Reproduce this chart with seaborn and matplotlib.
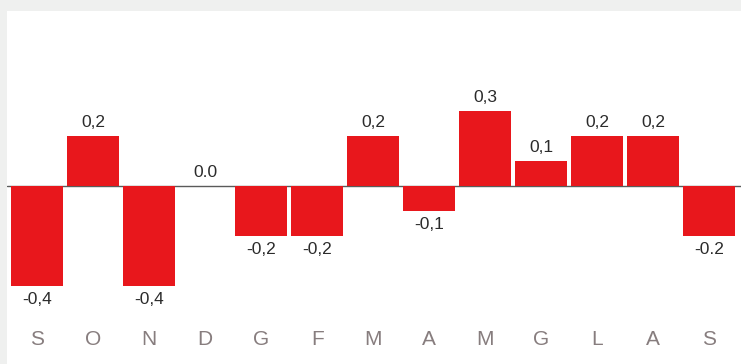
import numpy as np
import pandas as pd
import seaborn as sns
import matplotlib.pyplot as plt

months = ["S", "O", "N", "D", "G", "F", "M", "A", "M", "G", "L", "A", "S"]
values = [-0.4, 0.2, -0.4, 0.0, -0.2, -0.2, 0.2, -0.1, 0.3, 0.1, 0.2, 0.2, -0.2]
value_labels = ["-0,4", "0,2", "-0,4", "0.0", "-0,2", "-0,2", "0,2", "-0,1",
                "0,3", "0,1", "0,2", "0,2", "-0.2"]

sns.set_style("white")
plt.rcParams["font.family"] = ["Liberation Sans", "DejaVu Sans"]

df = pd.DataFrame({"idx": np.arange(len(values)), "value": values})

fig = plt.figure(figsize=(7.41, 3.64), dpi=100)
fig.patch.set_facecolor("#eff0ef")
ax = fig.add_axes([7 / 741, 0, 734 / 741, 353 / 364])
ax.set_facecolor("white")

sns.barplot(data=df, x="idx", y="value", color="#e8171c", saturation=1,
            width=0.93, ax=ax, edgecolor="none")

ax.axhline(0, color="#5a5a5a", lw=1, zorder=0.5)

# value labels above / below bars
for i, (v, lab) in enumerate(zip(values, value_labels)):
    off = 9.5 if v >= 0 else -9.5
    ax.annotate(lab, (i, v), xytext=(0, off), textcoords="offset points",
                ha="center", va="center", fontsize=12.5, color="#2b2b2b")

# month letters
for i, m in enumerate(months):
    ax.text(i, -0.614, m, ha="center", va="center", fontsize=15,
            color="#877d7e")

ax.set_xlim(-0.54, 12.57)
ax.set_ylim(-0.712, 0.7)
ax.set_xticks([])
ax.set_yticks([])
ax.set_xlabel("")
ax.set_ylabel("")
sns.despine(ax=ax, left=True, bottom=True)

plt.savefig("out.png", dpi=100, facecolor=fig.get_facecolor())
